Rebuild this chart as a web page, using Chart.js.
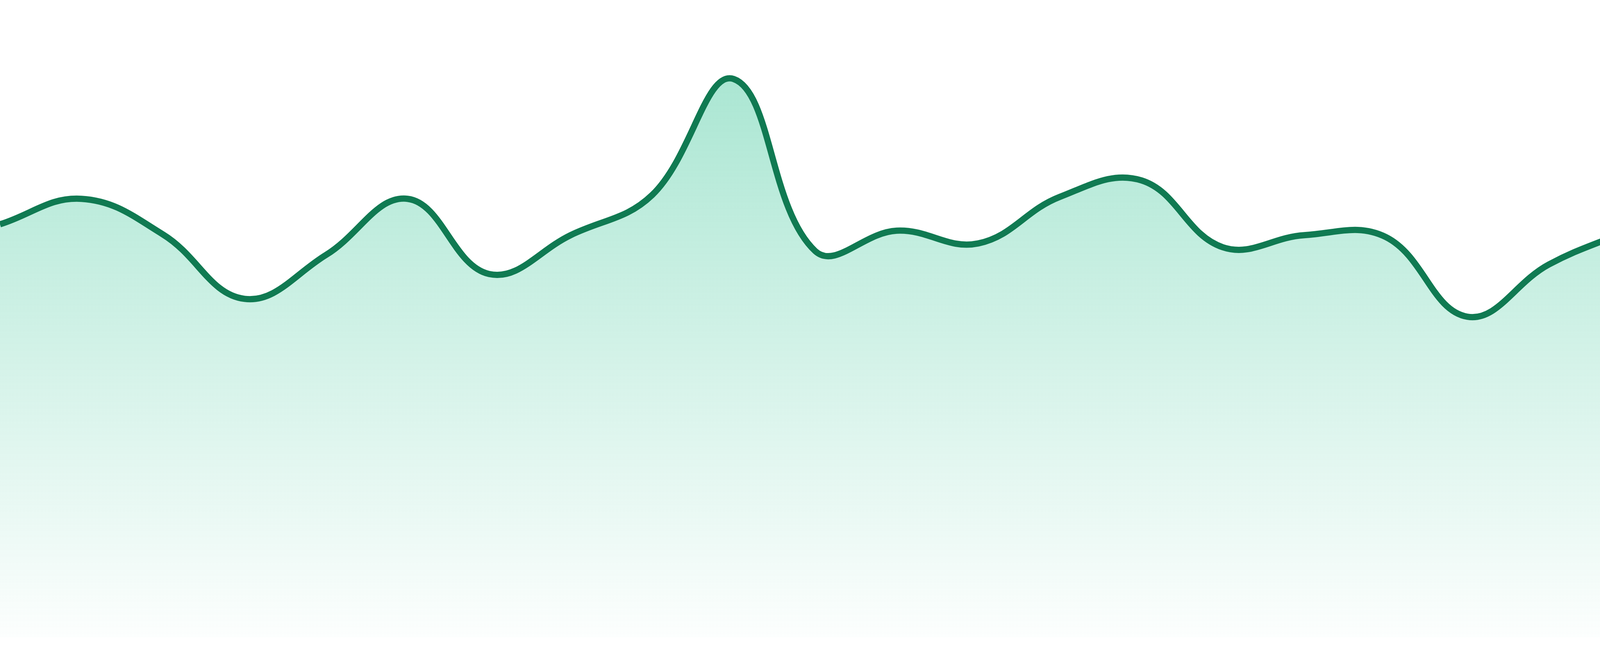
<!DOCTYPE html>
<html>
<head>
<meta charset="utf-8">
<title>Area trend</title>
<script src="https://cdn.jsdelivr.net/npm/chart.js@4"></script>
<style>
    html, body { margin: 0; padding: 0; background: #ffffff; }
    #wrap { position: relative; width: 4800px; height: 1680px; }
</style>
</head>
<body>
<div id="wrap"><canvas id="trend"></canvas></div>
<script>
// categories (no labels are drawn in the picture)
var labels = ['1', '2', '3', '4', '5', '6', '7', '8', '9', '10', '11', '12',
              '13', '14', '15', '16', '17', '18', '19', '20', '21', '22', '23', '24'];
// series values (scale 0-100 across the plot height)
var values = [64.8, 68.8, 63.2, 53.1, 60.0, 68.8, 57.0, 63.1, 69.4, 87.6, 60.6, 63.8,
              61.8, 69.1, 71.7, 61.2, 63.1, 62.8, 50.3, 58.5, 64.0, 69.9, 54.3, 52.5];
var yMin = 0;
var yMax = 100;

var ctx = document.getElementById('trend').getContext('2d');

function areaFill(context) {
    var chart = context.chart;
    var area = chart.chartArea;
    if (!area) {
        return 'rgba(16, 185, 129, 0.2)';
    }
    var g = chart.ctx.createLinearGradient(0, area.top, 0, area.bottom);
    g.addColorStop(0, 'rgba(16, 185, 129, 0.40)');
    g.addColorStop(1, 'rgba(16, 185, 129, 0.01)');
    return g;
}

var chart = new Chart(ctx, {
    type: 'line',
    data: {
        labels: labels,
        datasets: [{
            label: 'Trend',
            data: values,
            borderColor: '#107a52',
            borderWidth: 16,
            backgroundColor: areaFill,
            fill: 'origin',
            tension: 0.4,
            pointRadius: 0,
            pointHoverRadius: 0
        }]
    },
    options: {
        responsive: true,
        maintainAspectRatio: false,
        animation: false,
        devicePixelRatio: 1,
        layout: {
            padding: { left: 0, right: 0, top: 0, bottom: 48 }
        },
        plugins: {
            legend: { display: false },
            tooltip: { enabled: false }
        },
        scales: {
            x: {
                display: false,
                offset: false
            },
            y: {
                display: false,
                min: yMin,
                max: yMax
            }
        }
    }
});
</script>
</body>
</html>
